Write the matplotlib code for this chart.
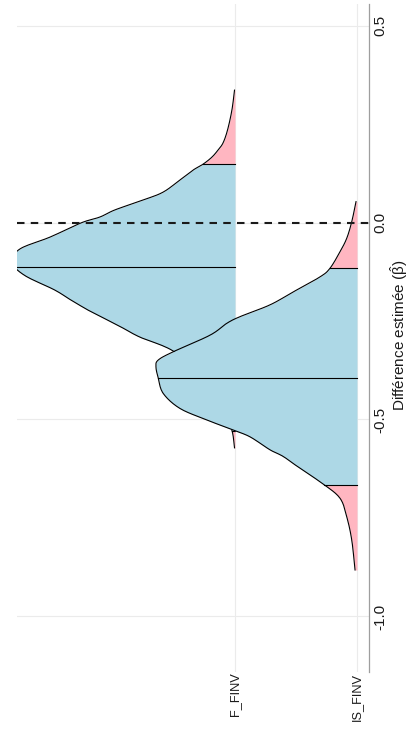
import numpy as np
import matplotlib
matplotlib.use("Agg")
import matplotlib.pyplot as plt

plt.rcParams['font.family'] = ['Liberation Sans', 'DejaVu Sans']
plt.rcParams['mathtext.fontset'] = 'custom'
plt.rcParams['mathtext.rm'] = 'Liberation Sans'
plt.rcParams['mathtext.it'] = 'Liberation Sans:italic'

# Ridge categories (position 1 = lower ridge)
categories = ["IS_FINV", "F_FINV"]

# F_FINV posterior density: estimate value and scaled ridge height
f_beta = [0.336, 0.286, 0.235, 0.202, 0.184, 0.166, 0.148, 0.133, 0.108, 0.077,
          0.057, 0.032, 0.014, -0.001, -0.037, -0.067, -0.100, -0.134, -0.171,
          -0.197, -0.225, -0.247, -0.268, -0.291, -0.326, -0.387, -0.450,
          -0.501, -0.534, -0.572]
f_height = [0.004, 0.025, 0.061, 0.098, 0.139, 0.189, 0.262, 0.344, 0.451, 0.590,
            0.754, 0.984, 1.107, 1.262, 1.516, 1.762, 1.830, 1.726, 1.480,
            1.344, 1.189, 1.049, 0.918, 0.779, 0.508, 0.287, 0.139,
            0.057, 0.020, 0.004]
f_quantiles = [-0.530, -0.113, 0.148]

# IS_FINV posterior density
is_beta = [0.053, 0.002, -0.040, -0.074, -0.116, -0.138, -0.176, -0.209, -0.239,
           -0.256, -0.286, -0.328, -0.349, -0.366, -0.395, -0.434, -0.472, -0.501,
           -0.527, -0.544, -0.577, -0.594, -0.624, -0.664, -0.700, -0.747,
           -0.806, -0.882]
is_height = [0.008, 0.043, 0.084, 0.139, 0.221, 0.303, 0.522, 0.713, 0.959,
             1.068, 1.205, 1.506, 1.629, 1.648, 1.629, 1.588, 1.451, 1.232,
             1.014, 0.877, 0.713, 0.604, 0.467, 0.276, 0.139, 0.084,
             0.043, 0.016]
is_quantiles = [-0.665, -0.395, -0.115]

beta_ticks = [-1.0, -0.5, 0.0, 0.5]
beta_labels = ["-1.0", "-0.5", "0.0", "0.5"]
ref_value = 0.0

BLUE = "#ADD8E6"
PINK = "#FFB6C1"
GRID = "#EBEBEB"
INK = "#1a1a1a"

W, H = 409, 729
fig = plt.figure(figsize=(W / 100, H / 100), dpi=100)
ax = fig.add_axes([17 / W, 1 - 672 / H, (369 - 17) / W, (672 - 4) / H])
ax.set_ylim(-1.1409, 0.5546)
ax.set_xlim(3.787, 0.9016)


def smooth(beta, height, n=12):
    """Catmull-Rom curve through the density points, for a smooth outline."""
    p = np.column_stack([beta, height])
    p = np.vstack([2 * p[0] - p[1], p, 2 * p[-1] - p[-2]])
    t = np.linspace(0, 1, n, endpoint=False)[:, None]
    out = []
    for i in range(1, len(p) - 2):
        p0, p1, p2, p3 = p[i - 1], p[i], p[i + 1], p[i + 2]
        seg = 0.5 * ((2 * p1) + (-p0 + p2) * t
                     + (2 * p0 - 5 * p1 + 4 * p2 - p3) * t ** 2
                     + (-p0 + 3 * p1 - 3 * p2 + p3) * t ** 3)
        out.append(seg)
    out.append(p[-2][None, :])
    out = np.vstack(out)
    return out[:, 0], np.clip(out[:, 1], 0, None)


def ridge(pos, beta, height, q, z):
    beta = np.asarray(beta, float)
    height = np.asarray(height, float)
    order = np.argsort(beta)
    sb, sh = smooth(beta[order], height[order])
    o = np.argsort(sb, kind="stable")
    sb, sh = sb[o], sh[o]
    qh = np.interp(q, sb, sh)
    b = np.concatenate([sb, q])
    h = np.concatenate([sh, qh])
    o = np.argsort(b, kind="stable")
    b, h = b[o], h[o]
    lo, hi = q[0], q[2]
    ax.fill_betweenx(b, pos, pos + h, where=(b >= lo) & (b <= hi),
                     color=BLUE, lw=0, zorder=z)
    ax.fill_betweenx(b, pos, pos + h, where=b <= lo, color=PINK, lw=0, zorder=z)
    ax.fill_betweenx(b, pos, pos + h, where=b >= hi, color=PINK, lw=0, zorder=z)
    ax.plot(pos + sh, sb, color="black", lw=0.8, zorder=z + 0.2,
            solid_joinstyle="round")
    for qq, hh in zip(q, qh):
        ax.plot([pos, pos + hh], [qq, qq], color="black", lw=0.8, zorder=z + 0.1)


# upper ridge first so the lower one overlaps it
ridge(2, f_beta, f_height, f_quantiles, 2)
ridge(1, is_beta, is_height, is_quantiles, 3)

ax.axhline(ref_value, color=INK, lw=1.5, ls=(0, (3.6, 3.0)), zorder=10)

ax.set_yticks(beta_ticks)
ax.set_yticklabels(beta_labels, rotation=90, va="center", fontsize=11, color=INK)
ax.yaxis.tick_right()
ax.set_xticks([1, 2])
ax.set_xticklabels(categories, rotation=90, ha="center", va="top", fontsize=9.2,
                   color=INK)
ax.tick_params(axis="x", length=0, pad=0.5)
ax.tick_params(axis="y", length=0, pad=3)
ax.grid(True, color=GRID, lw=0.8, zorder=0)
ax.set_axisbelow(True)
for s in ["left", "top", "bottom"]:
    ax.spines[s].set_visible(False)
ax.spines["right"].set_color("#9E9E9E")
ax.spines["right"].set_linewidth(0.9)

fig.text(399 / W, 1 - 335 / H, r"Différence estimée $(\hat{\mathrm{\beta}})$",
         rotation=90, ha="center", va="center", fontsize=11, color=INK)

fig.savefig("out.png", dpi=100)
